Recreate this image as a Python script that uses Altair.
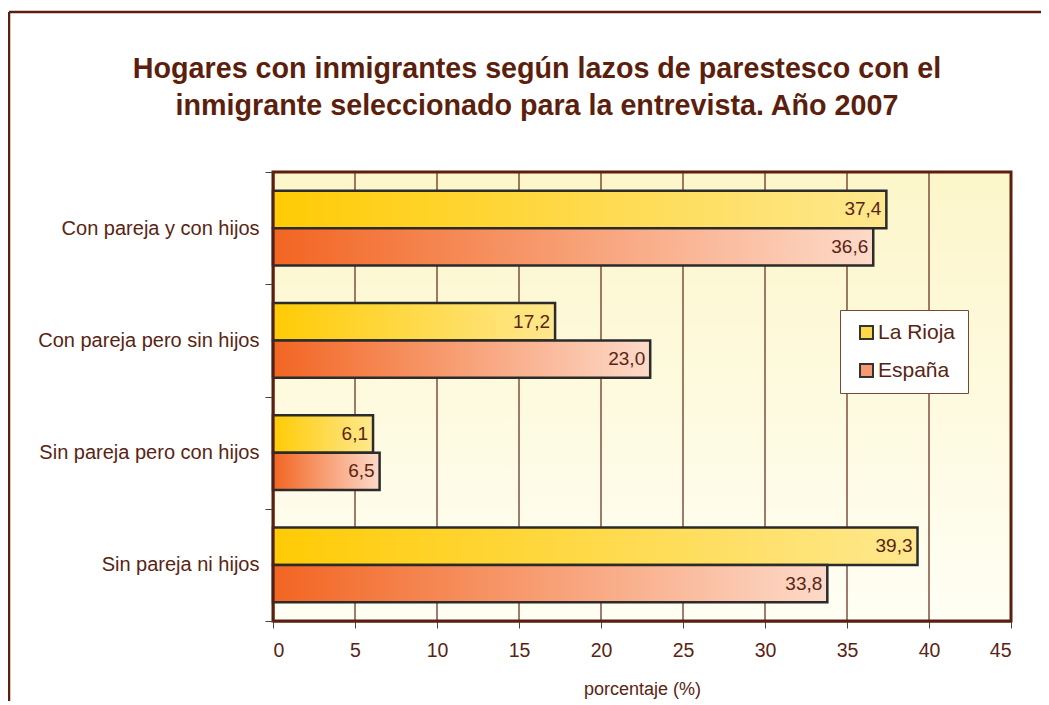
import altair as alt
import pandas as pd

# ---------------- data ----------------
categorias = [
    "Con pareja y con hijos",
    "Con pareja pero sin hijos",
    "Sin pareja pero con hijos",
    "Sin pareja ni hijos",
]
series = ["La Rioja", "España"]
la_rioja = [37.4, 17.2, 6.1, 39.3]
espana = [36.6, 23.0, 6.5, 33.8]
x_ticks = [0, 5, 10, 15, 20, 25, 30, 35, 40, 45]
grid_values = [5, 10, 15, 20, 25, 30, 35, 40]

titulo = [
    "Hogares con inmigrantes según lazos de parestesco con el",
    "inmigrante seleccionado para la entrevista. Año 2007",
]

rows = []
for c, a, b in zip(categorias, la_rioja, espana):
    rows.append({"categoria": c, "serie": series[0], "valor": a})
    rows.append({"categoria": c, "serie": series[1], "valor": b})
df = pd.DataFrame(rows)
df_grid = pd.DataFrame({"t": grid_values})
df_one = pd.DataFrame({"k": [0]})

# ---------------- style ----------------
W, H = 738, 449
BROWN = "#5c1f0e"
TEXT = "#5a2414"
FONT = "Liberation Sans"


def hgrad(c0, c1):
    return {"gradient": "linear", "x1": 0, "y1": 0, "x2": 1, "y2": 0,
            "stops": [{"offset": 0, "color": c0}, {"offset": 1, "color": c1}]}


grad_rioja = hgrad("#ffcb05", "#fee88e")
grad_espana = hgrad("#f26522", "#fddac9")
grad_bg = {"gradient": "linear", "x1": 0, "y1": 0, "x2": 0, "y2": 1,
           "stops": [{"offset": 0, "color": "#fcf6ca"}, {"offset": 1, "color": "#fffef4"}]}

x_scale = alt.Scale(domain=[0, 45], nice=False)
x_axis = alt.Axis(
    title="porcentaje (%)", values=x_ticks, grid=False, zindex=1,
    labelFont=FONT, labelFontSize=19.5, labelColor=TEXT, labelPadding=13,
    tickSize=7, tickColor="#444", domainColor=BROWN, domainWidth=2,
    titleFont=FONT, titleFontSize=18, titleFontWeight="normal", titleColor=TEXT,
    titlePadding=21,
)
y_axis = alt.Axis(
    title=None, tickBand="extent", zindex=1,
    labelFont=FONT, labelFontSize=20, labelColor=TEXT, labelPadding=6,
    tickSize=8, tickColor="#444", domainColor=BROWN, domainWidth=2,
    labelLimit=400,
)
y_enc = alt.Y("categoria:N", sort=categorias,
              scale=alt.Scale(paddingInner=0, paddingOuter=0), axis=y_axis)
yoff_enc = alt.YOffset("serie:N", sort=series,
                       scale=alt.Scale(domain=series, paddingInner=0, paddingOuter=0.5))

# background of plot area with border
bg = alt.Chart(df_one).mark_rect(
    fill=grad_bg, stroke=BROWN, strokeWidth=3
).encode(x=alt.value(0), x2=alt.value(W), y=alt.value(0), y2=alt.value(H))

# outer frame of the whole figure (left and top edges)
frame_left = alt.Chart(df_one).mark_rule(color=BROWN, strokeWidth=2.5).encode(
    x=alt.value(-264), y=alt.value(-160), y2=alt.value(H + 120))
frame_top = alt.Chart(df_one).mark_rule(color=BROWN, strokeWidth=2.5).encode(
    x=alt.value(-264), x2=alt.value(W + 60), y=alt.value(-160))

grid = alt.Chart(df_grid).mark_rule(color="#5e2414", strokeWidth=1.2, opacity=1).encode(
    x=alt.X("t:Q", scale=x_scale, axis=x_axis))

bars = alt.Chart(df).mark_bar(stroke="#2b2b2b", strokeWidth=2.5).encode(
    y=y_enc,
    yOffset=yoff_enc,
    x=alt.X("valor:Q", scale=x_scale, axis=x_axis),
    fill=alt.condition("datum.serie === 'La Rioja'", alt.value(grad_rioja), alt.value(grad_espana)),
)

labels = alt.Chart(df).transform_calculate(
    etiqueta="replace(format(datum.valor, '.1f'), '.', ',')"
).mark_text(align="right", baseline="middle", dx=-5, font=FONT, fontSize=19, color=TEXT).encode(
    y=y_enc,
    yOffset=yoff_enc,
    x=alt.X("valor:Q", scale=x_scale, axis=x_axis),
    text="etiqueta:N",
)

legend_layer = alt.Chart(df).transform_filter("false").mark_square().encode(
    fill=alt.Fill(
        "serie:N",
        scale=alt.Scale(domain=series, range=["#ffd84a", "#f79a72"]),
        legend=alt.Legend(
            title=None, orient="none", legendX=567, legendY=138,
            fillColor="white", strokeColor="#7a4634", padding=12,
            symbolType="square", symbolSize=169, symbolStrokeColor="#333",
            symbolStrokeWidth=2, symbolOffset=4, symbolOpacity=1,
            labelFont=FONT, labelFontSize=21, labelColor=TEXT,
            labelOffset=1, rowPadding=16,
        ),
    )
)

chart = alt.layer(bg, frame_left, frame_top, grid, bars, labels, legend_layer).properties(
    width=W, height=H,
    autosize=alt.AutoSizeParams(type="none"),
    padding={"left": 265, "top": 164, "right": 30, "bottom": 80},
    title=alt.TitleParams(
        text=titulo, font=FONT, fontSize=28.7, fontWeight="bold", color=BROWN,
        lineHeight=37, anchor="middle", frame="group", dx=-105, offset=-110,
    ),
).configure_view(stroke=None).configure(background="white")

chart.save("out.html", embed_options={"renderer": "svg", "actions": False})
